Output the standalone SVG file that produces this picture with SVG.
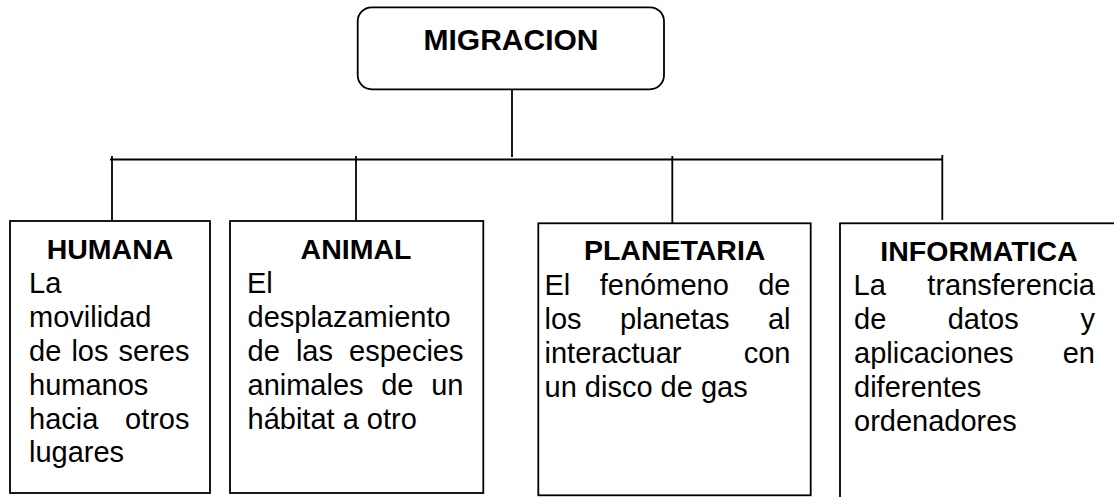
<svg xmlns="http://www.w3.org/2000/svg" width="1114" height="497" viewBox="0 0 1114 497">
<style>
.box{fill:#fff;stroke:#000;stroke-width:1.8}
.ln{stroke:#000;stroke-width:1.8;fill:none}
.t{font-family:"Liberation Sans",Arial,sans-serif;font-weight:bold;font-size:28.5px;fill:#000;text-anchor:middle}
.b{font-family:"Liberation Sans",Arial,sans-serif;font-size:29px;fill:#000}
.e{text-anchor:end}
</style>
<rect width="1114" height="497" fill="#fff"/>
<g id="connectors">
<line class="ln" x1="512" y1="89" x2="512" y2="157"/>
<line class="ln" x1="110" y1="159.5" x2="943" y2="159.5"/>
<line class="ln" x1="112" y1="156" x2="112" y2="221"/>
<line class="ln" x1="356" y1="156" x2="356" y2="221"/>
<line class="ln" x1="672.3" y1="156" x2="672.3" y2="223"/>
<line class="ln" x1="942.3" y1="155" x2="942.3" y2="220"/>
</g>
<g id="migracion">
<rect class="box" x="357.7" y="7.3" width="306.3" height="82" rx="14"/>
<text class="t" x="511" y="50" style="font-size:30px">MIGRACION</text>
</g>
<g id="humana">
<rect class="box" x="10" y="221" width="200" height="272"/>
<text class="t" x="110" y="258.7">HUMANA</text>
<text class="b" x="29" y="293">La</text>
<text class="b" x="29" y="327">movilidad</text>
<text class="b" x="29" y="361">de</text>
<text class="b" x="71.4" y="361">los</text>
<text class="b e" x="189.5" y="361">seres</text>
<text class="b" x="29" y="395">humanos</text>
<text class="b" x="29" y="428.5">hacia</text>
<text class="b e" x="189.5" y="428.5">otros</text>
<text class="b" x="29" y="462">lugares</text>
</g>
<g id="animal">
<rect class="box" x="230" y="221" width="253.3" height="272"/>
<text class="t" x="356" y="258.7">ANIMAL</text>
<text class="b" x="247" y="293">El</text>
<text class="b" x="247.5" y="327">desplazamiento</text>
<text class="b" x="247.5" y="361">de</text>
<text class="b" x="295.9" y="361">las</text>
<text class="b e" x="463.5" y="361">especies</text>
<text class="b" x="247.5" y="395">animales</text>
<text class="b" x="381.2" y="395">de</text>
<text class="b e" x="463.5" y="395">un</text>
<text class="b" x="247.5" y="428.5">hábitat a otro</text>
</g>
<g id="planetaria">
<rect class="box" x="538.3" y="223.3" width="272.4" height="272"/>
<text class="t" x="674.7" y="260">PLANETARIA</text>
<text class="b" x="544.5" y="294.5">El</text>
<text class="b" x="599.8" y="294.5">fenómeno</text>
<text class="b e" x="790.5" y="294.5">de</text>
<text class="b" x="544.5" y="328.5">los</text>
<text class="b" x="619.9" y="328.5">planetas</text>
<text class="b e" x="790.5" y="328.5">al</text>
<text class="b" x="544.5" y="362.5">interactuar</text>
<text class="b e" x="790.5" y="362.5">con</text>
<text class="b" x="544.5" y="396.5">un disco de gas</text>
</g>
<g id="informatica">
<rect class="box" x="840" y="223.3" width="300" height="300"/>
<text class="t" x="979" y="260.7">INFORMATICA</text>
<text class="b" x="853.5" y="295">La</text>
<text class="b e" x="1095" y="295">transferencia</text>
<text class="b" x="854" y="329">de</text>
<text class="b" x="947.7" y="329">datos</text>
<text class="b e" x="1095" y="329">y</text>
<text class="b" x="854" y="363">aplicaciones</text>
<text class="b e" x="1095" y="363">en</text>
<text class="b" x="854" y="397">diferentes</text>
<text class="b" x="854" y="431">ordenadores</text>
</g>
</svg>
